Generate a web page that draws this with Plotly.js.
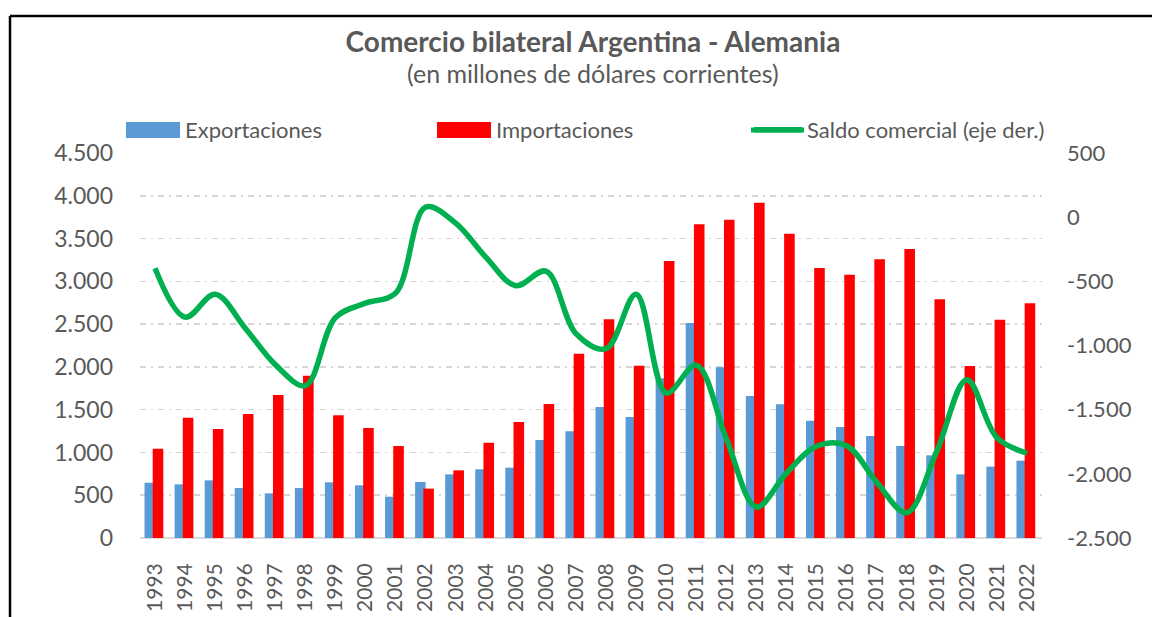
<!DOCTYPE html>
<html>
<head>
<meta charset="utf-8">
<script src="https://cdn.plot.ly/plotly-3.0.1.min.js"></script>
<style>
html,body{margin:0;padding:0;background:#fff;}
#chart{width:1152px;height:617px;}
</style>
</head>
<body>
<div id="chart"></div>
<script>
const years = ["1993","1994","1995","1996","1997","1998","1999","2000","2001","2002","2003","2004","2005","2006","2007","2008","2009","2010","2011","2012","2013","2014","2015","2016","2017","2018","2019","2020","2021","2022"];
const exportaciones = [646,627,674,584,522,584,651,616,483,655,744,803,822,1145,1247,1531,1414,1866,2513,1995,1660,1562,1371,1297,1192,1075,966,744,834,904];
const importaciones = [1044,1406,1274,1449,1671,1897,1434,1286,1075,577,791,1114,1356,1566,2154,2556,2014,3237,3666,3720,3919,3557,3156,3078,3257,3378,2790,2010,2552,2743];
const saldo = [-398,-779,-600,-865,-1149,-1313,-783,-670,-592,78,-47,-311,-534,-421,-907,-1025,-600,-1371,-1153,-1725,-2259,-1995,-1785,-1781,-2065,-2303,-1824,-1266,-1718,-1839];
const leftTicks = [0,500,1000,1500,2000,2500,3000,3500,4000,4500];
const rightTicks = [-2500,-2000,-1500,-1000,-500,0,500];
const rightTickText = ["-2.500","-2.000","-1.500","-1.000","-500","0","500"];

const FONT = "Lato, 'Open Sans', sans-serif";
const GREY = "#595959";
const BLUE = "#5B9BD5", RED = "#FF0000", GREEN = "#00B050";

const traces = [
  {type:"bar", name:"Exportaciones", x:years, y:exportaciones,
   marker:{color:BLUE}, offset:-0.35, width:0.35},
  {type:"bar", name:"Importaciones", x:years, y:importaciones,
   marker:{color:RED}, offset:-0.077, width:0.352},
  {type:"scatter", mode:"lines", name:"Saldo comercial (eje der.)", x:years, y:saldo, yaxis:"y2",
   line:{color:GREEN, width:5.5, shape:"spline", smoothing:1}}
];

// plot-area pixel helpers for positioning
const PL = 140, PW = 902, PB = 538, PH = 385;
const px = v => (v - PL) / PW;
const py = v => (PB - v) / PH;

const layout = {
  width:1152, height:617,
  margin:{l:140, r:110, t:153, b:79, autoexpand:false},
  paper_bgcolor:"#ffffff", plot_bgcolor:"#ffffff",
  separators:",.",
  font:{family:FONT, color:GREY, size:20},
  barmode:"overlay",
  title:{text:"<b>Comercio bilateral Argentina - Alemania</b>", font:{family:FONT, size:28, color:GREY},
         x:px(593), xref:"paper", xanchor:"center", y:1-42/617, yref:"container", yanchor:"middle"},
  annotations:[{text:"(en millones de dólares corrientes)", xref:"paper", yref:"paper",
    x:px(593), y:py(73), xanchor:"center", yanchor:"middle", showarrow:false,
    font:{family:FONT, size:25, color:GREY}}],
  legend:{orientation:"h", x:px(127), xanchor:"left", y:py(130), yanchor:"middle",
    entrywidth:248, entrywidthmode:"pixels", itemwidth:48,
    font:{family:FONT, size:22, color:GREY}, bgcolor:"rgba(0,0,0,0)", traceorder:"normal"},
  xaxis:{type:"category", tickangle:-90, tickfont:{family:FONT, size:21, color:GREY},
    showgrid:false, showline:false, zeroline:false, ticks:"", ticklabelstandoff:20},
  yaxis:{range:[0,4500], tickvals:leftTicks, tickformat:",d", tickfont:{family:FONT, size:23, color:GREY},
    showgrid:true, gridcolor:"#D6D6D6", gridwidth:1.6, griddash:"6px,5px,2px,5px",
    zeroline:true, zerolinecolor:"#D9D9D9", zerolinewidth:2, showline:false, ticks:"", ticklabelstandoff:26},
  yaxis2:{range:[-2500,500], tickvals:rightTicks, ticktext:rightTickText, overlaying:"y", side:"right",
    tickfont:{family:FONT, size:22, color:GREY}, showgrid:false, zeroline:false, showline:false,
    ticks:"", ticklabelstandoff:24},
  shapes:[
    {type:"line", xref:"paper", yref:"paper", x0:px(10), x1:px(1160), y0:py(16), y1:py(16),
     line:{color:"#000000", width:2.5}},
    {type:"line", xref:"paper", yref:"paper", x0:px(10), x1:px(10), y0:py(16), y1:py(630),
     line:{color:"#000000", width:2.5}},
    // wide legend swatches (Excel style) behind the native legend symbols
    {type:"rect", xref:"paper", yref:"paper", x0:px(126), x1:px(180), y0:py(138), y1:py(122),
     fillcolor:BLUE, line:{width:0}},
    {type:"rect", xref:"paper", yref:"paper", x0:px(437), x1:px(491), y0:py(138), y1:py(122),
     fillcolor:RED, line:{width:0}},
    {type:"line", xref:"paper", yref:"paper", x0:px(751), x1:px(804), y0:py(130), y1:py(130),
     line:{color:GREEN, width:5}}
  ],
  showlegend:true
};

Plotly.newPlot("chart", traces, layout, {displayModeBar:false, staticPlot:true});
</script>
</body>
</html>
